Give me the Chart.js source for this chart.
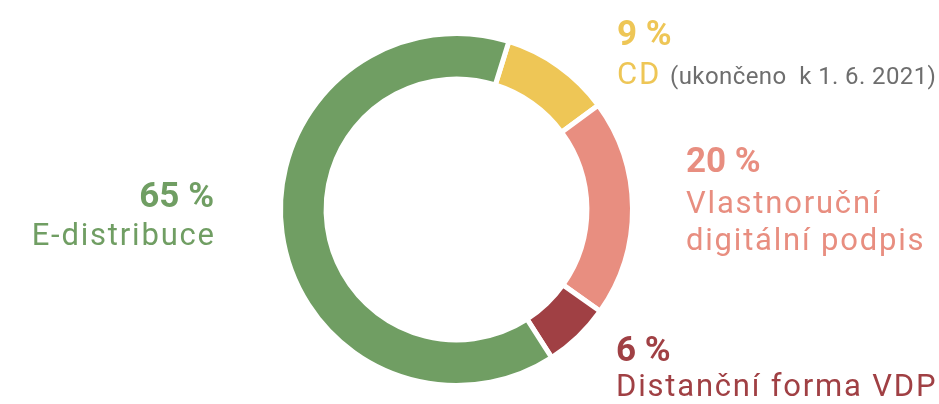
<!DOCTYPE html>
<html>
<head>
<meta charset="utf-8">
<script src="https://cdn.jsdelivr.net/npm/chart.js@4"></script>
<style>
  html, body { margin: 0; padding: 0; background: #ffffff; }
  #wrap { width: 939px; height: 404px; position: relative; }
</style>
</head>
<body>
<div id="wrap"><canvas id="c" width="939" height="404"></canvas></div>
<script>
// ---- data ----
const categories = ['CD', 'Vlastnoruční digitální podpis', 'Distanční forma VDP', 'E-distribuce'];
const shares = [10.1, 19.9, 6.1, 63.9];            // arc shares read from the ring
const percentLabels = ['9 %', '20 %', '6 %', '65 %'];
const nameLines = [['CD'], ['Vlastnoruční', 'digitální podpis'], ['Distanční forma VDP'], ['E-distribuce']];
const cdNote = '(ukončeno  k 1. 6. 2021)';
const colors = ['#eec656', '#e88e80', '#a04044', '#709e63'];

// ---- label layout (styles only) ----
const labelLayout = [
  { x: 617, align: 'left',  pctY: 45,    nameY: [84] },
  { x: 686, align: 'left',  pctY: 171.5, nameY: [212.7, 250] },
  { x: 616, align: 'left',  pctY: 360.5, nameY: [396] },
  { x: 214, align: 'right', pctY: 206.5, nameY: [245] }
];

const labelPlugin = {
  id: 'sideLabels',
  afterDraw(chart) {
    const ctx = chart.ctx;
    ctx.save();
    ctx.textBaseline = 'alphabetic';
    categories.forEach((cat, i) => {
      const L = labelLayout[i];
      ctx.fillStyle = colors[i];
      ctx.textAlign = L.align;
      ctx.letterSpacing = '0px';
      ctx.font = 'bold 35px Roboto';
      ctx.fillText(percentLabels[i], L.x, L.pctY);
      ctx.font = '31px Roboto';
      ctx.letterSpacing = '1.8px';
      nameLines[i].forEach((line, j) => {
        const xx = L.align === 'right' ? L.x + 1.8 : L.x;
        ctx.fillText(line, xx, L.nameY[j]);
      });
      if (i === 0) {
        const w = ctx.measureText(nameLines[0][0]).width;
        ctx.font = '24px Roboto';
        ctx.letterSpacing = '0.4px';
        ctx.fillStyle = '#6e6e6e';
        ctx.textAlign = 'left';
        ctx.fillText(cdNote, L.x + w + 9, L.nameY[0]);
      }
    });
    ctx.restore();
  }
};

new Chart(document.getElementById('c'), {
  type: 'doughnut',
  data: {
    labels: categories,
    datasets: [{
      data: shares,
      backgroundColor: colors,
      borderColor: '#ffffff',
      borderWidth: 5,
      hoverBorderWidth: 5,
      hoverOffset: 0,
      offset: 0
    }]
  },
  options: {
    responsive: false,
    animation: false,
    events: [],
    rotation: 17.3,
    cutout: '74.1%',
    layout: { padding: { left: 278, right: 304, top: 31, bottom: 16 } },
    plugins: {
      legend: { display: false },
      tooltip: { enabled: false },
      title: { display: false }
    }
  },
  plugins: [labelPlugin]
});
</script>
</body>
</html>
